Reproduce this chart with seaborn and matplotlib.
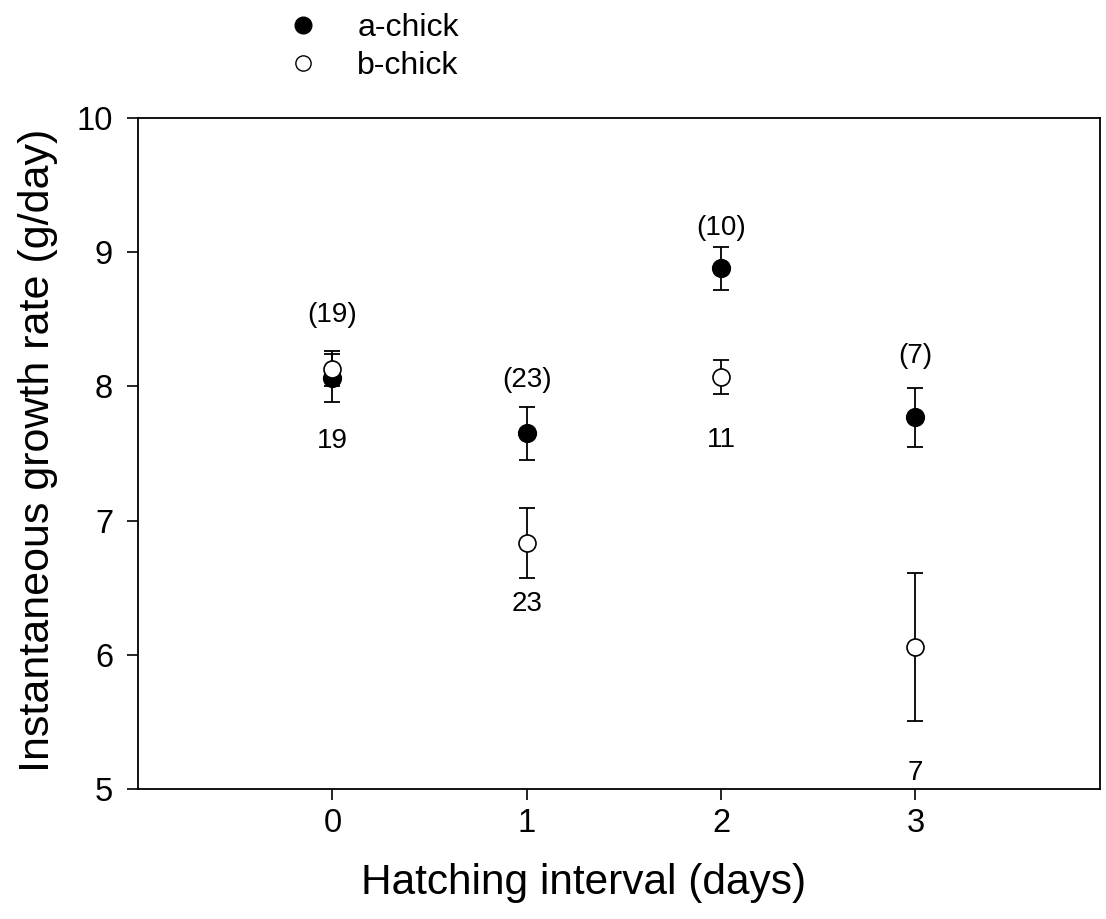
import numpy as np
import pandas as pd
import matplotlib
matplotlib.use("Agg")
import matplotlib.pyplot as plt
import seaborn as sns
from matplotlib.lines import Line2D

# Data
intervals = [0, 1, 2, 3]
a_mean = [8.06, 7.65, 8.88, 7.77]
a_se = [0.18, 0.20, 0.16, 0.22]
b_mean = [8.13, 6.83, 8.07, 6.06]
b_se = [0.13, 0.26, 0.13, 0.55]
a_n = ["(19)", "(23)", "(10)", "(7)"]
b_n = ["19", "23", "11", "7"]
a_n_y = [8.53, 8.05, 9.18, 8.23]
b_n_y = [7.59, 6.38, 7.60, 5.12]
x_ticks = [0, 1, 2, 3]
y_ticks = [5, 6, 7, 8, 9, 10]

sns.set_theme(style="white")
plt.rcParams['font.family'] = ['Liberation Sans', 'DejaVu Sans']
plt.rcParams['text.color'] = 'black'
plt.rcParams['axes.labelcolor'] = 'black'

df = pd.DataFrame({
    "interval": intervals * 2,
    "mean": a_mean + b_mean,
    "se": a_se + b_se,
    "chick": ["a-chick"] * 4 + ["b-chick"] * 4,
})

fig = plt.figure(figsize=(11.06, 9.19), dpi=100)
ax = fig.add_axes([0.1248, 0.1415, 0.8698, 0.7301])

for chick in ["b-chick", "a-chick"]:
    sub = df[df.chick == chick]
    ax.errorbar(sub["interval"], sub["mean"], yerr=sub["se"], fmt="none",
                ecolor="black", elinewidth=1.3, capsize=6, capthick=1.3, zorder=2)

sns.scatterplot(data=df[df.chick == "a-chick"], x="interval", y="mean", ax=ax,
                color="black", edgecolor="black", s=160, linewidth=1.2, zorder=4, legend=False)
sns.scatterplot(data=df[df.chick == "b-chick"], x="interval", y="mean", ax=ax,
                color="white", edgecolor="black", s=150, linewidth=1.2, zorder=5, legend=False)

for x, t, y in zip(intervals, a_n, a_n_y):
    ax.text(x, y, t, ha="center", va="center", fontsize=20, color="black")
for x, t, y in zip(intervals, b_n, b_n_y):
    ax.text(x, y, t, ha="center", va="center", fontsize=20, color="black")

ax.set_xlim(-1, 3.95)
ax.set_ylim(5, 10)
ax.set_xticks(x_ticks)
ax.set_yticks(y_ticks)
ax.tick_params(axis="both", direction="out", length=8, width=1.2, labelsize=23.5,
               bottom=True, left=True, top=False, right=False, colors="black")
ax.tick_params(axis="x", pad=6)
ax.tick_params(axis="y", pad=10)
for s in ax.spines.values():
    s.set_visible(True)
    s.set_color("black")
    s.set_linewidth(1.3)

ax.set_xlabel("Hatching interval (days)", fontsize=30.5)
ax.set_ylabel("Instantaneous growth rate (g/day)", fontsize=31)
ax.xaxis.set_label_coords(0.4635, -0.111)
ax.yaxis.set_label_coords(-0.083, 0.505)

handles = [
    Line2D([], [], marker="o", linestyle="none", markerfacecolor="black",
           markeredgecolor="black", markersize=12),
    Line2D([], [], marker="o", linestyle="none", markerfacecolor="white",
           markeredgecolor="black", markersize=11),
]
fig.legend(handles, ["a-chick", "b-chick"], loc="upper left",
           bbox_to_anchor=(0.2595, 0.9855), frameon=False, fontsize=23,
           handlelength=1.0, handletextpad=1.2, labelspacing=0.25,
           borderpad=0, borderaxespad=0)

fig.savefig("out.png", dpi=100, facecolor="white")
